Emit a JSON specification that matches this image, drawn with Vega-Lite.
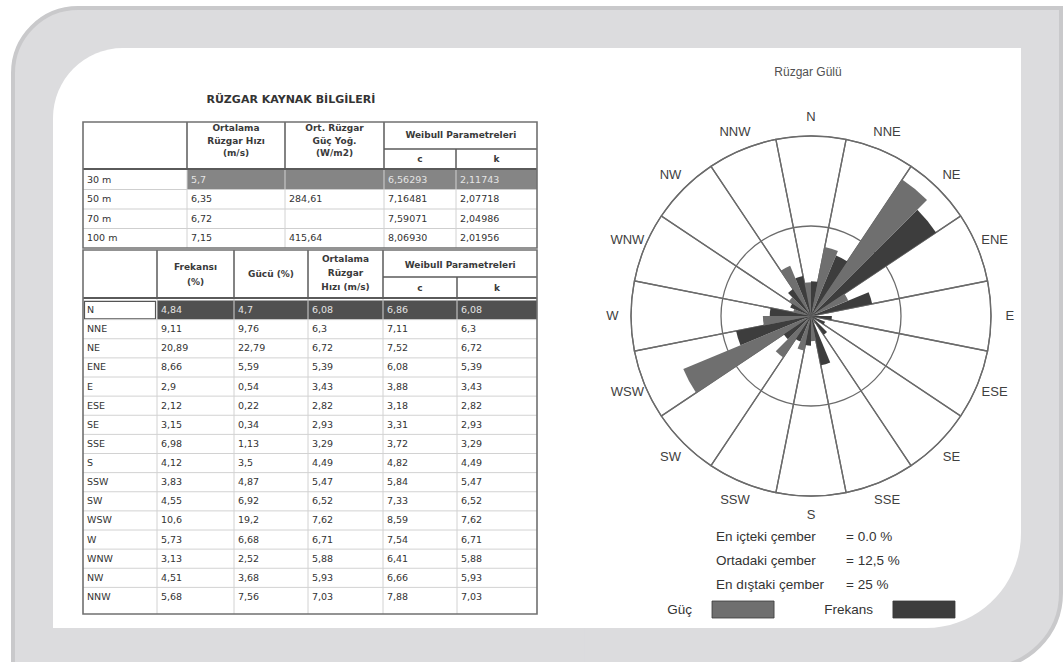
{
"$schema": "https://vega.github.io/schema/vega-lite/v6.json",
"background": "#ffffff",
"padding": {"left": 11, "top": 6, "right": 0, "bottom": 0},
"spacing": 0,
"bounds": "flush",
"config": {"view": {"stroke": null}, "locale": {"number": {"decimal": ",", "thousands": ".", "grouping": [3], "currency": ["", " TL"]}}},
"datasets": {
  "bos": [{}],
  "yukseklikler": [
    {"sira": 1, "ad": "30 m", "hiz": "5,7", "guc": "", "c": "6,56293", "k": "2,11743"},
    {"sira": 2, "ad": "50 m", "hiz": "6,35", "guc": "284,61", "c": "7,16481", "k": "2,07718"},
    {"sira": 3, "ad": "70 m", "hiz": "6,72", "guc": "", "c": "7,59071", "k": "2,04986"},
    {"sira": 4, "ad": "100 m", "hiz": "7,15", "guc": "415,64", "c": "8,06930", "k": "2,01956"}
  ],
  "sutunlar1": [
    {"alan": "ad", "no": 0}, {"alan": "hiz", "no": 1}, {"alan": "guc", "no": 2}, {"alan": "c", "no": 3}, {"alan": "k", "no": 4}
  ],
  "sutunlar2": [
    {"alan": "yon", "no": 0}, {"alan": "frekans", "no": 1}, {"alan": "guc", "no": 2}, {"alan": "hiz", "no": 3}, {"alan": "c", "no": 4}, {"alan": "k", "no": 5}
  ],
  "yonler": [
    {"yon": "N", "aci": 0, "frekans": 4.84, "guc": 4.7, "hiz": 6.08, "c": 6.86, "k": 6.08},
    {"yon": "NNE", "aci": 22.5, "frekans": 9.11, "guc": 9.76, "hiz": 6.3, "c": 7.11, "k": 6.3},
    {"yon": "NE", "aci": 45, "frekans": 20.89, "guc": 22.79, "hiz": 6.72, "c": 7.52, "k": 6.72},
    {"yon": "ENE", "aci": 67.5, "frekans": 8.66, "guc": 5.59, "hiz": 5.39, "c": 6.08, "k": 5.39},
    {"yon": "E", "aci": 90, "frekans": 2.9, "guc": 0.54, "hiz": 3.43, "c": 3.88, "k": 3.43},
    {"yon": "ESE", "aci": 112.5, "frekans": 2.12, "guc": 0.22, "hiz": 2.82, "c": 3.18, "k": 2.82},
    {"yon": "SE", "aci": 135, "frekans": 3.15, "guc": 0.34, "hiz": 2.93, "c": 3.31, "k": 2.93},
    {"yon": "SSE", "aci": 157.5, "frekans": 6.98, "guc": 1.13, "hiz": 3.29, "c": 3.72, "k": 3.29},
    {"yon": "S", "aci": 180, "frekans": 4.12, "guc": 3.5, "hiz": 4.49, "c": 4.82, "k": 4.49},
    {"yon": "SSW", "aci": 202.5, "frekans": 3.83, "guc": 4.87, "hiz": 5.47, "c": 5.84, "k": 5.47},
    {"yon": "SW", "aci": 225, "frekans": 4.55, "guc": 6.92, "hiz": 6.52, "c": 7.33, "k": 6.52},
    {"yon": "WSW", "aci": 247.5, "frekans": 10.6, "guc": 19.2, "hiz": 7.62, "c": 8.59, "k": 7.62},
    {"yon": "W", "aci": 270, "frekans": 5.73, "guc": 6.68, "hiz": 6.71, "c": 7.54, "k": 6.71},
    {"yon": "WNW", "aci": 292.5, "frekans": 3.13, "guc": 2.52, "hiz": 5.88, "c": 6.41, "k": 5.88},
    {"yon": "NW", "aci": 315, "frekans": 4.51, "guc": 3.68, "hiz": 5.93, "c": 6.66, "k": 5.93},
    {"yon": "NNW", "aci": 337.5, "frekans": 5.68, "guc": 7.56, "hiz": 7.03, "c": 7.88, "k": 7.03}
  ],
  "cemberler": [
    {"ad": "En içteki çember", "yuzde": 0, "etiket": "= 0.0 %"},
    {"ad": "Ortadaki çember", "yuzde": 12.5, "etiket": "= 12,5 %"},
    {"ad": "En dıştaki çember", "yuzde": 25, "etiket": "= 25 %"}
  ],
  "seriler": [
    {"seri": "guc", "ad": "Güç"},
    {"seri": "frekans", "ad": "Frekans"}
  ]
},
"hconcat": [
{
  "width": 530, "height": 580,
  "resolve": {"scale": {"x": "independent", "y": "independent"}},
  "layer": [
    {"data": {"name": "bos"}, "mark": {"type": "rect", "filled": false, "color": "#c9c9cb", "strokeWidth": 84, "cornerRadiusTopLeft": 25}, "encoding": {}},
    {"data": {"name": "bos"}, "mark": {"type": "rect", "filled": false, "color": "#dcdcde", "strokeWidth": 76, "cornerRadiusTopLeft": 25}, "encoding": {}},
    {"data": {"name": "bos"}, "mark": {"type": "rect", "color": "#ffffff", "cornerRadiusTopLeft": 70}, "encoding": {}},
    {
      "layer": [
        {"data": {"name": "bos"}, "mark": {"type": "rect", "color": "#858585"},
         "encoding": {"x": {"datum": 1, "type": "quantitative", "scale": {"type": "linear", "domain": [0,1,2,3,4,5], "range": [30,134,232,331,403,484], "nice": false, "zero": false}, "axis": null}, "x2": {"datum": 5},
                      "y": {"datum": 1, "type": "quantitative", "scale": {"type": "linear", "domain": [0,1,5], "range": [74,122,200], "nice": false, "zero": false}, "axis": null}, "y2": {"datum": 2}}},
        {"data": {"name": "yukseklikler"}, "transform": [{"filter": "datum.sira > 1"}],
         "mark": {"type": "rule", "color": "#cfcfcf", "strokeWidth": 1},
         "encoding": {"y": {"field": "sira", "type": "quantitative", "scale": {"type": "linear", "domain": [0,1,5], "range": [74,122,200], "nice": false, "zero": false}, "axis": null},
                      "x": {"datum": 0, "type": "quantitative", "scale": {"type": "linear", "domain": [0,1,2,3,4,5], "range": [30,134,232,331,403,484], "nice": false, "zero": false}, "axis": null}, "x2": {"datum": 5}}},
        {"data": {"name": "sutunlar1"}, "transform": [{"filter": "datum.no > 0"}],
         "mark": {"type": "rule", "color": "#d2d2d2", "strokeWidth": 1},
         "encoding": {"x": {"field": "no", "type": "quantitative", "scale": {"type": "linear", "domain": [0,1,2,3,4,5], "range": [30,134,232,331,403,484], "nice": false, "zero": false}, "axis": null},
                      "y": {"datum": 1, "type": "quantitative", "scale": {"type": "linear", "domain": [0,1,5], "range": [74,122,200], "nice": false, "zero": false}, "axis": null}, "y2": {"datum": 5}}},
        {"data": {"name": "sutunlar1"}, "transform": [{"filter": "datum.no > 0 && datum.no < 4"}],
         "mark": {"type": "rule", "color": "#5a5a5a", "strokeWidth": 1.5},
         "encoding": {"x": {"field": "no", "type": "quantitative", "scale": {"type": "linear", "domain": [0,1,2,3,4,5], "range": [30,134,232,331,403,484], "nice": false, "zero": false}, "axis": null},
                      "y": {"datum": 0, "type": "quantitative", "scale": {"type": "linear", "domain": [0,1,5], "range": [74,122,200], "nice": false, "zero": false}, "axis": null}, "y2": {"datum": 1}}},
        {"data": {"name": "sutunlar1"}, "transform": [{"filter": "datum.no === 4"}],
         "mark": {"type": "rule", "color": "#5a5a5a", "strokeWidth": 1.5},
         "encoding": {"x": {"field": "no", "type": "quantitative", "scale": {"type": "linear", "domain": [0,1,2,3,4,5], "range": [30,134,232,331,403,484], "nice": false, "zero": false}, "axis": null},
                      "y": {"datum": 0.5625, "type": "quantitative", "scale": {"type": "linear", "domain": [0,1,5], "range": [74,122,200], "nice": false, "zero": false}, "axis": null}, "y2": {"datum": 1}}},
        {"data": {"name": "bos"}, "mark": {"type": "rule", "color": "#5a5a5a", "strokeWidth": 1.5},
         "encoding": {"x": {"datum": 3, "type": "quantitative", "scale": {"type": "linear", "domain": [0,1,2,3,4,5], "range": [30,134,232,331,403,484], "nice": false, "zero": false}, "axis": null}, "x2": {"datum": 5},
                      "y": {"datum": 0.5625, "type": "quantitative", "scale": {"type": "linear", "domain": [0,1,5], "range": [74,122,200], "nice": false, "zero": false}, "axis": null}}},
        {"data": {"name": "bos"}, "mark": {"type": "rule", "color": "#5a5a5a", "strokeWidth": 2},
         "encoding": {"x": {"datum": 0, "type": "quantitative", "scale": {"type": "linear", "domain": [0,1,2,3,4,5], "range": [30,134,232,331,403,484], "nice": false, "zero": false}, "axis": null}, "x2": {"datum": 5},
                      "y": {"datum": 0.98, "type": "quantitative", "scale": {"type": "linear", "domain": [0,1,5], "range": [74,122,200], "nice": false, "zero": false}, "axis": null}}},
        {"data": {"name": "bos"}, "mark": {"type": "rect", "filled": false, "color": "#707070", "strokeWidth": 1.6},
         "encoding": {"x": {"datum": 0, "type": "quantitative", "scale": {"type": "linear", "domain": [0,1,2,3,4,5], "range": [30,134,232,331,403,484], "nice": false, "zero": false}, "axis": null}, "x2": {"datum": 5},
                      "y": {"datum": 0, "type": "quantitative", "scale": {"type": "linear", "domain": [0,1,5], "range": [74,122,200], "nice": false, "zero": false}, "axis": null}, "y2": {"datum": 5}}},
        {"data": {"name": "yukseklikler"},
         "transform": [{"fold": ["ad", "hiz", "guc", "c", "k"], "as": ["alan", "metin"]}, {"lookup": "alan", "from": {"data": {"name": "sutunlar1"}, "key": "alan", "fields": ["no"]}}],
         "mark": {"type": "text", "align": "left", "baseline": "middle", "dx": 4, "dy": 9.75, "font": "DejaVu Sans", "fontSize": 9.5},
         "encoding": {"x": {"field": "no", "type": "quantitative", "scale": {"type": "linear", "domain": [0,1,2,3,4,5], "range": [30,134,232,331,403,484], "nice": false, "zero": false}, "axis": null},
                      "y": {"field": "sira", "type": "quantitative", "scale": {"type": "linear", "domain": [0,1,5], "range": [74,122,200], "nice": false, "zero": false}, "axis": null},
                      "text": {"field": "metin", "type": "nominal"},
                      "color": {"condition": {"test": "datum.sira === 1 && datum.no > 0", "value": "#e4e4e4"}, "value": "#333333"}}},
        {"data": {"name": "bos"}, "mark": {"type": "text", "align": "center", "baseline": "middle", "font": "DejaVu Sans", "fontSize": 9, "fontWeight": "bold", "lineHeight": 12.5, "color": "#3a3a3a"},
         "encoding": {"x": {"datum": 1.5, "type": "quantitative", "scale": {"type": "linear", "domain": [0,1,2,3,4,5], "range": [30,134,232,331,403,484], "nice": false, "zero": false}, "axis": null},
                      "y": {"datum": 0.125, "type": "quantitative", "scale": {"type": "linear", "domain": [0,1,5], "range": [74,122,200], "nice": false, "zero": false}, "axis": null},
                      "text": {"value": ["Ortalama", "Rüzgar Hızı", "(m/s)"]}}},
        {"data": {"name": "bos"}, "mark": {"type": "text", "align": "center", "baseline": "middle", "font": "DejaVu Sans", "fontSize": 9, "fontWeight": "bold", "lineHeight": 12.5, "color": "#3a3a3a"},
         "encoding": {"x": {"datum": 2.5, "type": "quantitative", "scale": {"type": "linear", "domain": [0,1,2,3,4,5], "range": [30,134,232,331,403,484], "nice": false, "zero": false}, "axis": null},
                      "y": {"datum": 0.125, "type": "quantitative", "scale": {"type": "linear", "domain": [0,1,5], "range": [74,122,200], "nice": false, "zero": false}, "axis": null},
                      "text": {"value": ["Ort. Rüzgar", "Güç Yoğ.", "(W/m2)"]}}},
        {"data": {"name": "bos"}, "mark": {"type": "text", "align": "center", "baseline": "middle", "font": "DejaVu Sans", "fontSize": 9, "fontWeight": "bold", "color": "#3a3a3a"},
         "encoding": {"x": {"datum": 4.06, "type": "quantitative", "scale": {"type": "linear", "domain": [0,1,2,3,4,5], "range": [30,134,232,331,403,484], "nice": false, "zero": false}, "axis": null},
                      "y": {"datum": 0.271, "type": "quantitative", "scale": {"type": "linear", "domain": [0,1,5], "range": [74,122,200], "nice": false, "zero": false}, "axis": null},
                      "text": {"value": "Weibull Parametreleri"}}},
        {"data": {"name": "bos"}, "mark": {"type": "text", "align": "center", "baseline": "middle", "font": "DejaVu Sans", "fontSize": 9, "fontWeight": "bold", "color": "#3a3a3a"},
         "encoding": {"x": {"datum": 3.5, "type": "quantitative", "scale": {"type": "linear", "domain": [0,1,2,3,4,5], "range": [30,134,232,331,403,484], "nice": false, "zero": false}, "axis": null},
                      "y": {"datum": 0.771, "type": "quantitative", "scale": {"type": "linear", "domain": [0,1,5], "range": [74,122,200], "nice": false, "zero": false}, "axis": null},
                      "text": {"value": "c"}}},
        {"data": {"name": "bos"}, "mark": {"type": "text", "align": "center", "baseline": "middle", "font": "DejaVu Sans", "fontSize": 9, "fontWeight": "bold", "color": "#3a3a3a"},
         "encoding": {"x": {"datum": 4.5, "type": "quantitative", "scale": {"type": "linear", "domain": [0,1,2,3,4,5], "range": [30,134,232,331,403,484], "nice": false, "zero": false}, "axis": null},
                      "y": {"datum": 0.771, "type": "quantitative", "scale": {"type": "linear", "domain": [0,1,5], "range": [74,122,200], "nice": false, "zero": false}, "axis": null},
                      "text": {"value": "k"}}},
        {"data": {"name": "bos"}, "mark": {"type": "text", "align": "center", "baseline": "middle", "font": "DejaVu Sans", "fontSize": 11, "fontWeight": "bold", "color": "#333333"},
         "encoding": {"x": {"datum": 2.06, "type": "quantitative", "scale": {"type": "linear", "domain": [0,1,2,3,4,5], "range": [30,134,232,331,403,484], "nice": false, "zero": false}, "axis": null},
                      "y": {"datum": -0.46, "type": "quantitative", "scale": {"type": "linear", "domain": [0,1,5], "range": [74,122,200], "nice": false, "zero": false}, "axis": null},
                      "text": {"value": "RÜZGAR KAYNAK BİLGİLERİ"}}}
      ]
    },
    {
      "layer": [
        {"data": {"name": "bos"}, "mark": {"type": "rect", "color": "#505050"},
         "encoding": {"x": {"datum": 1, "type": "quantitative", "scale": {"type": "linear", "domain": [0,1,2,3,4,5,6], "range": [30,104,181,255,330,404,484], "nice": false, "zero": false}, "axis": null}, "x2": {"datum": 6},
                      "y": {"datum": 0, "type": "quantitative", "scale": {"type": "linear", "domain": [-2,0,360,375], "range": [202,252.5,558.5,566], "nice": false, "zero": false}, "axis": null}, "y2": {"datum": 22.5}}},
        {"data": {"name": "bos"}, "mark": {"type": "rect", "filled": false, "color": "#555555", "strokeWidth": 1.2},
         "encoding": {"x": {"datum": 0.02, "type": "quantitative", "scale": {"type": "linear", "domain": [0,1,2,3,4,5,6], "range": [30,104,181,255,330,404,484], "nice": false, "zero": false}, "axis": null}, "x2": {"datum": 0.98},
                      "y": {"datum": 1, "type": "quantitative", "scale": {"type": "linear", "domain": [-2,0,360,375], "range": [202,252.5,558.5,566], "nice": false, "zero": false}, "axis": null}, "y2": {"datum": 21.5}}},
        {"data": {"name": "yonler"}, "transform": [{"filter": "datum.aci > 0"}],
         "mark": {"type": "rule", "color": "#d2d2d2", "strokeWidth": 1},
         "encoding": {"y": {"field": "aci", "type": "quantitative", "scale": {"type": "linear", "domain": [-2,0,360,375], "range": [202,252.5,558.5,566], "nice": false, "zero": false}, "axis": null},
                      "x": {"datum": 0, "type": "quantitative", "scale": {"type": "linear", "domain": [0,1,2,3,4,5,6], "range": [30,104,181,255,330,404,484], "nice": false, "zero": false}, "axis": null}, "x2": {"datum": 6}}},
        {"data": {"name": "sutunlar2"}, "transform": [{"filter": "datum.no > 0"}],
         "mark": {"type": "rule", "color": "#d2d2d2", "strokeWidth": 1},
         "encoding": {"x": {"field": "no", "type": "quantitative", "scale": {"type": "linear", "domain": [0,1,2,3,4,5,6], "range": [30,104,181,255,330,404,484], "nice": false, "zero": false}, "axis": null},
                      "y": {"datum": 0, "type": "quantitative", "scale": {"type": "linear", "domain": [-2,0,360,375], "range": [202,252.5,558.5,566], "nice": false, "zero": false}, "axis": null}, "y2": {"datum": 375}}},
        {"data": {"name": "sutunlar2"}, "transform": [{"filter": "datum.no > 0 && datum.no < 5"}],
         "mark": {"type": "rule", "color": "#5a5a5a", "strokeWidth": 1.5},
         "encoding": {"x": {"field": "no", "type": "quantitative", "scale": {"type": "linear", "domain": [0,1,2,3,4,5,6], "range": [30,104,181,255,330,404,484], "nice": false, "zero": false}, "axis": null},
                      "y": {"datum": -2, "type": "quantitative", "scale": {"type": "linear", "domain": [-2,0,360,375], "range": [202,252.5,558.5,566], "nice": false, "zero": false}, "axis": null}, "y2": {"datum": -0.05}}},
        {"data": {"name": "sutunlar2"}, "transform": [{"filter": "datum.no === 5"}],
         "mark": {"type": "rule", "color": "#5a5a5a", "strokeWidth": 1.5},
         "encoding": {"x": {"field": "no", "type": "quantitative", "scale": {"type": "linear", "domain": [0,1,2,3,4,5,6], "range": [30,104,181,255,330,404,484], "nice": false, "zero": false}, "axis": null},
                      "y": {"datum": -0.931, "type": "quantitative", "scale": {"type": "linear", "domain": [-2,0,360,375], "range": [202,252.5,558.5,566], "nice": false, "zero": false}, "axis": null}, "y2": {"datum": -0.05}}},
        {"data": {"name": "bos"}, "mark": {"type": "rule", "color": "#5a5a5a", "strokeWidth": 1.5},
         "encoding": {"x": {"datum": 4, "type": "quantitative", "scale": {"type": "linear", "domain": [0,1,2,3,4,5,6], "range": [30,104,181,255,330,404,484], "nice": false, "zero": false}, "axis": null}, "x2": {"datum": 6},
                      "y": {"datum": -0.931, "type": "quantitative", "scale": {"type": "linear", "domain": [-2,0,360,375], "range": [202,252.5,558.5,566], "nice": false, "zero": false}, "axis": null}}},
        {"data": {"name": "bos"}, "mark": {"type": "rule", "color": "#5a5a5a", "strokeWidth": 2},
         "encoding": {"x": {"datum": 0, "type": "quantitative", "scale": {"type": "linear", "domain": [0,1,2,3,4,5,6], "range": [30,104,181,255,330,404,484], "nice": false, "zero": false}, "axis": null}, "x2": {"datum": 6},
                      "y": {"datum": -0.099, "type": "quantitative", "scale": {"type": "linear", "domain": [-2,0,360,375], "range": [202,252.5,558.5,566], "nice": false, "zero": false}, "axis": null}}},
        {"data": {"name": "bos"}, "mark": {"type": "rect", "filled": false, "color": "#707070", "strokeWidth": 1.6},
         "encoding": {"x": {"datum": 0, "type": "quantitative", "scale": {"type": "linear", "domain": [0,1,2,3,4,5,6], "range": [30,104,181,255,330,404,484], "nice": false, "zero": false}, "axis": null}, "x2": {"datum": 6},
                      "y": {"datum": -2, "type": "quantitative", "scale": {"type": "linear", "domain": [-2,0,360,375], "range": [202,252.5,558.5,566], "nice": false, "zero": false}, "axis": null}, "y2": {"datum": 375}}},
        {"data": {"name": "yonler"},
         "mark": {"type": "text", "align": "left", "baseline": "middle", "dx": 4, "dy": 9.5, "font": "DejaVu Sans", "fontSize": 9.5, "color": "#333333"},
         "encoding": {"x": {"datum": 0, "type": "quantitative", "scale": {"type": "linear", "domain": [0,1,2,3,4,5,6], "range": [30,104,181,255,330,404,484], "nice": false, "zero": false}, "axis": null},
                      "y": {"field": "aci", "type": "quantitative", "scale": {"type": "linear", "domain": [-2,0,360,375], "range": [202,252.5,558.5,566], "nice": false, "zero": false}, "axis": null},
                      "text": {"field": "yon", "type": "nominal"}}},
        {"data": {"name": "yonler"},
         "transform": [{"fold": ["frekans", "guc", "hiz", "c", "k"], "as": ["alan", "deger"]}, {"lookup": "alan", "from": {"data": {"name": "sutunlar2"}, "key": "alan", "fields": ["no"]}}],
         "mark": {"type": "text", "align": "left", "baseline": "middle", "dx": 4, "dy": 9.5, "font": "DejaVu Sans", "fontSize": 9.5},
         "encoding": {"x": {"field": "no", "type": "quantitative", "scale": {"type": "linear", "domain": [0,1,2,3,4,5,6], "range": [30,104,181,255,330,404,484], "nice": false, "zero": false}, "axis": null},
                      "y": {"field": "aci", "type": "quantitative", "scale": {"type": "linear", "domain": [-2,0,360,375], "range": [202,252.5,558.5,566], "nice": false, "zero": false}, "axis": null},
                      "text": {"field": "deger", "type": "quantitative", "format": ".2~f"},
                      "color": {"condition": {"test": "datum.yon === 'N'", "value": "#e4e4e4"}, "value": "#333333"}}},
        {"data": {"name": "bos"}, "mark": {"type": "text", "align": "center", "baseline": "middle", "font": "DejaVu Sans", "fontSize": 9, "fontWeight": "bold", "lineHeight": 15, "color": "#3a3a3a"},
         "encoding": {"x": {"datum": 1.5, "type": "quantitative", "scale": {"type": "linear", "domain": [0,1,2,3,4,5,6], "range": [30,104,181,255,330,404,484], "nice": false, "zero": false}, "axis": null},
                      "y": {"datum": -1.327, "type": "quantitative", "scale": {"type": "linear", "domain": [-2,0,360,375], "range": [202,252.5,558.5,566], "nice": false, "zero": false}, "axis": null},
                      "text": {"value": ["Frekansı", "(%)"]}}},
        {"data": {"name": "bos"}, "mark": {"type": "text", "align": "center", "baseline": "middle", "font": "DejaVu Sans", "fontSize": 9, "fontWeight": "bold", "color": "#3a3a3a"},
         "encoding": {"x": {"datum": 2.5, "type": "quantitative", "scale": {"type": "linear", "domain": [0,1,2,3,4,5,6], "range": [30,104,181,255,330,404,484], "nice": false, "zero": false}, "axis": null},
                      "y": {"datum": -1.05, "type": "quantitative", "scale": {"type": "linear", "domain": [-2,0,360,375], "range": [202,252.5,558.5,566], "nice": false, "zero": false}, "axis": null},
                      "text": {"value": "Gücü (%)"}}},
        {"data": {"name": "bos"}, "mark": {"type": "text", "align": "center", "baseline": "middle", "font": "DejaVu Sans", "fontSize": 9, "fontWeight": "bold", "lineHeight": 14, "color": "#3a3a3a"},
         "encoding": {"x": {"datum": 3.5, "type": "quantitative", "scale": {"type": "linear", "domain": [0,1,2,3,4,5,6], "range": [30,104,181,255,330,404,484], "nice": false, "zero": false}, "axis": null},
                      "y": {"datum": -1.644, "type": "quantitative", "scale": {"type": "linear", "domain": [-2,0,360,375], "range": [202,252.5,558.5,566], "nice": false, "zero": false}, "axis": null},
                      "text": {"value": ["Ortalama", "Rüzgar", "Hızı (m/s)"]}}},
        {"data": {"name": "bos"}, "mark": {"type": "text", "align": "center", "baseline": "middle", "font": "DejaVu Sans", "fontSize": 9, "fontWeight": "bold", "color": "#3a3a3a"},
         "encoding": {"x": {"datum": 5.04, "type": "quantitative", "scale": {"type": "linear", "domain": [0,1,2,3,4,5,6], "range": [30,104,181,255,330,404,484], "nice": false, "zero": false}, "axis": null},
                      "y": {"datum": -1.406, "type": "quantitative", "scale": {"type": "linear", "domain": [-2,0,360,375], "range": [202,252.5,558.5,566], "nice": false, "zero": false}, "axis": null},
                      "text": {"value": "Weibull Parametreleri"}}},
        {"data": {"name": "bos"}, "mark": {"type": "text", "align": "center", "baseline": "middle", "font": "DejaVu Sans", "fontSize": 9, "fontWeight": "bold", "color": "#3a3a3a"},
         "encoding": {"x": {"datum": 4.5, "type": "quantitative", "scale": {"type": "linear", "domain": [0,1,2,3,4,5,6], "range": [30,104,181,255,330,404,484], "nice": false, "zero": false}, "axis": null},
                      "y": {"datum": -0.495, "type": "quantitative", "scale": {"type": "linear", "domain": [-2,0,360,375], "range": [202,252.5,558.5,566], "nice": false, "zero": false}, "axis": null},
                      "text": {"value": "c"}}},
        {"data": {"name": "bos"}, "mark": {"type": "text", "align": "center", "baseline": "middle", "font": "DejaVu Sans", "fontSize": 9, "fontWeight": "bold", "color": "#3a3a3a"},
         "encoding": {"x": {"datum": 5.5, "type": "quantitative", "scale": {"type": "linear", "domain": [0,1,2,3,4,5,6], "range": [30,104,181,255,330,404,484], "nice": false, "zero": false}, "axis": null},
                      "y": {"datum": -0.495, "type": "quantitative", "scale": {"type": "linear", "domain": [-2,0,360,375], "range": [202,252.5,558.5,566], "nice": false, "zero": false}, "axis": null},
                      "text": {"value": "k"}}}
      ]
    }
  ]
},
{
  "width": 438, "height": 580,
  "resolve": {"scale": {"x": "independent", "y": "independent"}},
  "layer": [
    {"data": {"name": "bos"}, "mark": {"type": "rect", "filled": false, "color": "#c9c9cb", "strokeWidth": 84, "cornerRadiusBottomRight": 35, "strokeDash": [1400, 900]}, "encoding": {}},
    {"data": {"name": "bos"}, "mark": {"type": "rect", "filled": false, "color": "#dcdcde", "strokeWidth": 76, "cornerRadiusBottomRight": 35, "strokeDash": [1439, 800]}, "encoding": {}},
    {"data": {"name": "bos"}, "mark": {"type": "rect", "color": "#ffffff", "cornerRadiusBottomRight": 95}, "encoding": {}},
    {
      "encoding": {
        "x": {"datum": 0, "type": "quantitative", "scale": {"domain": [-31.6667, 29.1667], "nice": false, "zero": false}, "axis": null},
        "y": {"datum": 0, "type": "quantitative", "scale": {"domain": [-43.3333, 37.2222], "nice": false, "zero": false}, "axis": null}
      },
      "resolve": {"scale": {"theta": "independent"}},
      "layer": [
        {"data": {"name": "yonler"},
         "mark": {"type": "arc", "filled": false, "color": "#6b6b6b", "strokeWidth": 1.3},
         "encoding": {"theta": {"aggregate": "count", "type": "quantitative", "stack": true, "scale": {"domain": [0, 16], "range": [-0.19635, 6.08684]}},
                      "order": {"field": "aci", "type": "quantitative"},
                      "detail": {"field": "yon", "type": "nominal"},
                      "radius": {"datum": 25, "type": "quantitative", "scale": {"type": "linear", "domain": [0, 25], "range": [0, 180], "zero": true}}}},
        {"data": {"name": "cemberler"}, "transform": [{"filter": "datum.yuzde > 0"}],
         "mark": {"type": "arc", "filled": false, "color": "#6b6b6b", "strokeWidth": 1.3},
         "encoding": {"radius": {"field": "yuzde", "type": "quantitative", "stack": null, "scale": {"type": "linear", "domain": [0, 25], "range": [0, 180], "zero": true}}}},
        {"data": {"name": "yonler"},
         "transform": [
           {"fold": ["guc", "frekans"], "as": ["seri", "deger"]},
           {"aggregate": [{"op": "count", "as": "adet"}], "groupby": ["yon", "aci", "seri", "deger"]},
           {"stack": "adet", "groupby": [], "sort": [{"field": "aci", "order": "ascending"}, {"field": "seri", "order": "descending"}], "as": ["t0", "t1"]}
         ],
         "mark": {"type": "arc"},
         "encoding": {"theta": {"field": "t0", "type": "quantitative", "scale": {"domain": [0, 32], "range": [-0.19635, 6.08684]}},
                      "theta2": {"field": "t1"},
                      "radius": {"field": "deger", "type": "quantitative", "stack": null, "scale": {"type": "linear", "domain": [0, 25], "range": [0, 180], "zero": true}},
                      "color": {"field": "seri", "type": "nominal", "scale": {"domain": ["guc", "frekans"], "range": ["#6f6f6f", "#3d3d3d"]}, "legend": null}}},
        {"data": {"name": "yonler"},
         "mark": {"type": "text", "font": "Liberation Sans", "fontSize": 13, "color": "#404040", "align": "center", "baseline": "middle"},
         "encoding": {"theta": {"field": "aci", "type": "quantitative", "stack": null, "scale": {"domain": [0, 360], "range": [0, 6.28319]}},
                      "radius": {"datum": 27.6, "type": "quantitative", "scale": {"type": "linear", "domain": [0, 25], "range": [0, 180], "zero": true}},
                      "text": {"field": "yon", "type": "nominal"}}},
        {"data": {"name": "bos"}, "mark": {"type": "text", "font": "Liberation Sans", "fontSize": 12, "color": "#505050", "align": "center", "baseline": "middle"},
         "encoding": {"x": {"datum": -0.42, "type": "quantitative", "scale": {"domain": [-31.6667, 29.1667], "nice": false, "zero": false}, "axis": null},
                      "y": {"datum": 33.89, "type": "quantitative", "scale": {"domain": [-43.3333, 37.2222], "nice": false, "zero": false}, "axis": null},
                      "text": {"value": "Rüzgar Gülü"}}}
      ]
    },
    {
      "data": {"name": "cemberler"},
      "encoding": {"y": {"field": "ad", "type": "nominal", "sort": null, "scale": {"type": "point", "range": [489, 537], "padding": 0}, "axis": null}},
      "layer": [
        {"mark": {"type": "text", "align": "left", "baseline": "middle", "font": "Liberation Sans", "fontSize": 13.5, "color": "#333333"},
         "encoding": {"x": {"datum": -13.19, "type": "quantitative", "scale": {"domain": [-31.6667, 29.1667], "nice": false, "zero": false}, "axis": null},
                      "text": {"field": "ad", "type": "nominal"}}},
        {"mark": {"type": "text", "align": "left", "baseline": "middle", "font": "Liberation Sans", "fontSize": 13.5, "color": "#333333"},
         "encoding": {"x": {"datum": 4.86, "type": "quantitative", "scale": {"domain": [-31.6667, 29.1667], "nice": false, "zero": false}, "axis": null},
                      "text": {"field": "etiket", "type": "nominal"}}}
      ]
    },
    {
      "data": {"name": "seriler"},
      "encoding": {"y": {"datum": "lejant", "type": "nominal", "scale": {"type": "band", "range": [553, 570], "paddingInner": 0, "paddingOuter": 0}, "axis": null}},
      "layer": [
        {"mark": {"type": "rect", "stroke": "#3a3a3a", "strokeWidth": 0.8},
         "encoding": {"x": {"field": "seri", "type": "nominal", "sort": null, "scale": {"type": "band", "domain": ["guc", "frekans"], "range": [129, 372], "paddingInner": 0.657, "paddingOuter": 0}, "axis": null},
                      "color": {"field": "seri", "type": "nominal", "scale": {"domain": ["guc", "frekans"], "range": ["#6f6f6f", "#3d3d3d"]}, "legend": null}}},
        {"mark": {"type": "text", "align": "right", "baseline": "middle", "dx": -20, "font": "Liberation Sans", "fontSize": 13.5, "color": "#333333"},
         "encoding": {"x": {"field": "seri", "type": "nominal", "sort": null, "bandPosition": 0, "scale": {"type": "band", "domain": ["guc", "frekans"], "range": [129, 372], "paddingInner": 0.657, "paddingOuter": 0}, "axis": null},
                      "text": {"field": "ad", "type": "nominal"}}}
      ]
    }
  ]
}
]
}
